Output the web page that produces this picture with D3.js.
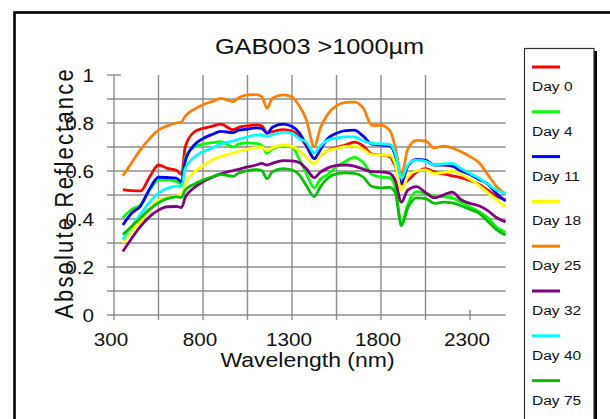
<!DOCTYPE html>
<html><head><meta charset="utf-8">
<script src="https://cdn.jsdelivr.net/npm/d3@7"></script>
<style>
html,body{margin:0;padding:0;background:#fff;}
svg{display:block;font-family:"Liberation Sans",Arial,sans-serif;}
</style></head>
<body>
<script>
const wavelengths = [350,400,450,500,550,600,650,680,700,750,800,850,900,970,1000,1050,1100,1130,1160,1190,1250,1300,1340,1380,1425,1460,1500,1550,1600,1650,1700,1750,1800,1850,1880,1915,1950,2000,2050,2100,2150,2200,2250,2300,2350,2400,2450,2500];
const day0  = [0.522,0.518,0.517,0.575,0.625,0.611,0.603,0.585,0.700,0.762,0.778,0.786,0.795,0.772,0.782,0.788,0.792,0.788,0.760,0.764,0.772,0.766,0.745,0.705,0.652,0.665,0.685,0.698,0.708,0.720,0.705,0.670,0.667,0.660,0.620,0.545,0.560,0.595,0.610,0.595,0.588,0.580,0.572,0.560,0.545,0.520,0.495,0.480];
const day4  = [0.405,0.440,0.460,0.520,0.562,0.563,0.557,0.545,0.655,0.700,0.712,0.718,0.722,0.700,0.712,0.717,0.715,0.708,0.674,0.692,0.705,0.700,0.650,0.590,0.530,0.567,0.585,0.618,0.640,0.657,0.635,0.585,0.575,0.572,0.530,0.380,0.460,0.515,0.505,0.495,0.493,0.488,0.470,0.450,0.430,0.405,0.365,0.345];
const day11 = [0.375,0.425,0.455,0.525,0.574,0.573,0.570,0.555,0.640,0.708,0.735,0.752,0.765,0.760,0.770,0.775,0.780,0.778,0.757,0.782,0.795,0.785,0.760,0.710,0.652,0.690,0.735,0.757,0.768,0.770,0.745,0.712,0.708,0.705,0.665,0.550,0.620,0.648,0.645,0.625,0.625,0.620,0.600,0.585,0.565,0.545,0.505,0.475];
const day18 = [0.300,0.350,0.390,0.440,0.478,0.490,0.495,0.500,0.545,0.595,0.622,0.645,0.660,0.675,0.682,0.690,0.697,0.700,0.684,0.697,0.708,0.703,0.685,0.660,0.630,0.665,0.685,0.693,0.703,0.705,0.690,0.668,0.667,0.665,0.630,0.520,0.575,0.600,0.605,0.590,0.593,0.600,0.585,0.565,0.540,0.510,0.480,0.450];
const day25 = [0.580,0.635,0.690,0.735,0.770,0.788,0.800,0.805,0.828,0.857,0.876,0.889,0.903,0.889,0.905,0.917,0.918,0.910,0.861,0.903,0.917,0.908,0.872,0.815,0.700,0.780,0.835,0.872,0.886,0.888,0.862,0.790,0.790,0.768,0.700,0.585,0.690,0.728,0.725,0.696,0.704,0.696,0.680,0.660,0.635,0.585,0.535,0.505];
const day32 = [0.265,0.320,0.370,0.410,0.437,0.451,0.452,0.448,0.490,0.530,0.555,0.573,0.588,0.602,0.607,0.617,0.625,0.632,0.625,0.632,0.643,0.642,0.635,0.610,0.572,0.595,0.612,0.623,0.625,0.620,0.608,0.597,0.596,0.590,0.560,0.470,0.520,0.535,0.510,0.488,0.500,0.512,0.480,0.465,0.455,0.435,0.405,0.388];
const day40 = [0.315,0.370,0.420,0.470,0.508,0.528,0.537,0.535,0.610,0.657,0.680,0.695,0.712,0.725,0.732,0.742,0.750,0.750,0.743,0.750,0.762,0.757,0.736,0.720,0.675,0.705,0.728,0.737,0.742,0.742,0.725,0.715,0.713,0.710,0.675,0.570,0.625,0.645,0.640,0.625,0.630,0.632,0.610,0.590,0.570,0.545,0.520,0.507];
const day75 = [0.335,0.370,0.405,0.440,0.468,0.485,0.492,0.490,0.520,0.545,0.562,0.575,0.585,0.578,0.592,0.602,0.606,0.602,0.568,0.597,0.610,0.604,0.585,0.540,0.493,0.535,0.570,0.588,0.592,0.590,0.575,0.535,0.530,0.532,0.510,0.372,0.445,0.488,0.485,0.465,0.470,0.467,0.455,0.440,0.425,0.390,0.355,0.333];

const seriesNames = ["Day 0","Day 4","Day 11","Day 18","Day 25","Day 32","Day 40","Day 75"];
const seriesValues = [day0,day4,day11,day18,day25,day32,day40,day75];
const seriesColors = ["#ff0000","#00ff00","#0000ff","#ffff00","#ff8000","#800080","#00ffff","#00c000"];
const xTicks = [300,800,1300,1800,2300];
const xGrid = [550,800,1050,1300,1550,1800,2050];
const yTicks = [0,0.2,0.4,0.6,0.8,1];
const yGrid = [0,0.1,0.2,0.3,0.4,0.5,0.6,0.7,0.8,0.9];
const titleText = "GAB003 >1000µm";
const xTitle = "Wavelength (nm)";
const yTitle = "Absolute Reflectance";

const W = 610, H = 419, SX = 1.15;
const svg = d3.select("body").append("svg").attr("width",W).attr("height",H);
svg.append("rect").attr("width",W).attr("height",H).attr("fill","#fff");
// outer frame
svg.append("rect").attr("x",14.5).attr("y",12.5).attr("width",700).attr("height",600)
  .attr("fill","none").attr("stroke","#000").attr("stroke-width",2.6);

const x = d3.scaleLinear().domain([300,2500]).range([114,505.6]);
const y = d3.scaleLinear().domain([0,1]).range([315,75]);
const gridColor = "#8c8c8c";

// horizontal grid
svg.append("g").selectAll("line").data(yGrid).join("line")
  .attr("x1",107).attr("x2",x(2500)).attr("y1",d=>y(d)).attr("y2",d=>y(d))
  .attr("stroke",gridColor).attr("stroke-width",1.4);
// top tick at 1
svg.append("line").attr("x1",107).attr("x2",121).attr("y1",y(1)).attr("y2",y(1))
  .attr("stroke",gridColor).attr("stroke-width",1.4);
// vertical grid
svg.append("g").selectAll("line").data(xGrid).join("line")
  .attr("x1",d=>x(d)).attr("x2",d=>x(d)).attr("y1",y(1)).attr("y2",y(0)+5)
  .attr("stroke",gridColor).attr("stroke-width",1.4);
// 2300 tick only
svg.append("line").attr("x1",x(2300)).attr("x2",x(2300)).attr("y1",y(0)-5).attr("y2",y(0)+5)
  .attr("stroke",gridColor).attr("stroke-width",1.4);
// y axis line
svg.append("line").attr("x1",x(300)).attr("x2",x(300)).attr("y1",y(1)).attr("y2",y(0)+5)
  .attr("stroke",gridColor).attr("stroke-width",1.4);

// axes labels
const gy = svg.append("g").attr("transform",`translate(${x(300)},0)`)
  .call(d3.axisLeft(y).tickValues(yTicks).tickSize(0).tickFormat(d=>String(d)));
gy.select(".domain").remove();
gy.selectAll("text").attr("x",0).attr("dy",null)
  .attr("transform","translate(-20,6.5) scale(" + SX + ",1)")
  .attr("text-anchor","end").attr("font-size",18).attr("fill","#111")
  .attr("font-family","Liberation Sans, Arial, sans-serif");

const gx = svg.append("g").attr("transform",`translate(0,${y(0)})`)
  .call(d3.axisBottom(x).tickValues(xTicks).tickSize(0).tickFormat(d=>String(d)));
gx.select(".domain").remove();
gx.selectAll("text").attr("y",0).attr("dy",null)
  .attr("transform","translate(-3.5,31) scale(" + SX + ",1)")
  .attr("text-anchor","middle").attr("font-size",18).attr("fill","#111")
  .attr("font-family","Liberation Sans, Arial, sans-serif");

// lines
const line = d3.line().x((d,i)=>x(wavelengths[i])).y(d=>y(d)).curve(d3.curveMonotoneX);
svg.append("g").selectAll("path").data(seriesValues).join("path")
  .attr("d",line).attr("fill","none")
  .attr("stroke",(d,i)=>seriesColors[i]).attr("stroke-width",2.8)
  .attr("stroke-linejoin","round");

// titles
svg.append("text").attr("transform",`translate(319.5,54) scale(${SX},1)`)
  .attr("text-anchor","middle").attr("font-size",22).attr("fill","#111").text(titleText);
svg.append("text").attr("transform",`translate(307.5,366.5) scale(${SX},1)`)
  .attr("text-anchor","middle").attr("font-size",20).attr("fill","#111").text(xTitle);
svg.append("text").attr("transform",`translate(73,193) scale(${SX},1) rotate(-90)`)
  .attr("text-anchor","middle").attr("font-size",22).attr("letter-spacing",2.2)
  .attr("fill","#111").text(yTitle);

// legend
const lg = svg.append("g");
lg.append("rect").attr("x",527).attr("y",51).attr("width",70).attr("height",420).attr("fill","#000");
lg.append("rect").attr("x",524.5).attr("y",48.5).attr("width",69.5).attr("height",420)
  .attr("fill","#fff").attr("stroke","#333").attr("stroke-width",1.2);
const items = lg.selectAll("g.item").data(seriesNames).join("g").attr("class","item")
  .attr("transform",(d,i)=>`translate(532,${67 + i*44.8})`);
items.append("line").attr("x1",0).attr("x2",28).attr("y1",0).attr("y2",0)
  .attr("stroke",(d,i)=>seriesColors[i]).attr("stroke-width",3);
items.append("text").attr("transform",`translate(0,24) scale(${SX},1)`)
  .attr("font-size",13.5).attr("fill","#111").text(d=>d);
</script>
</body></html>
